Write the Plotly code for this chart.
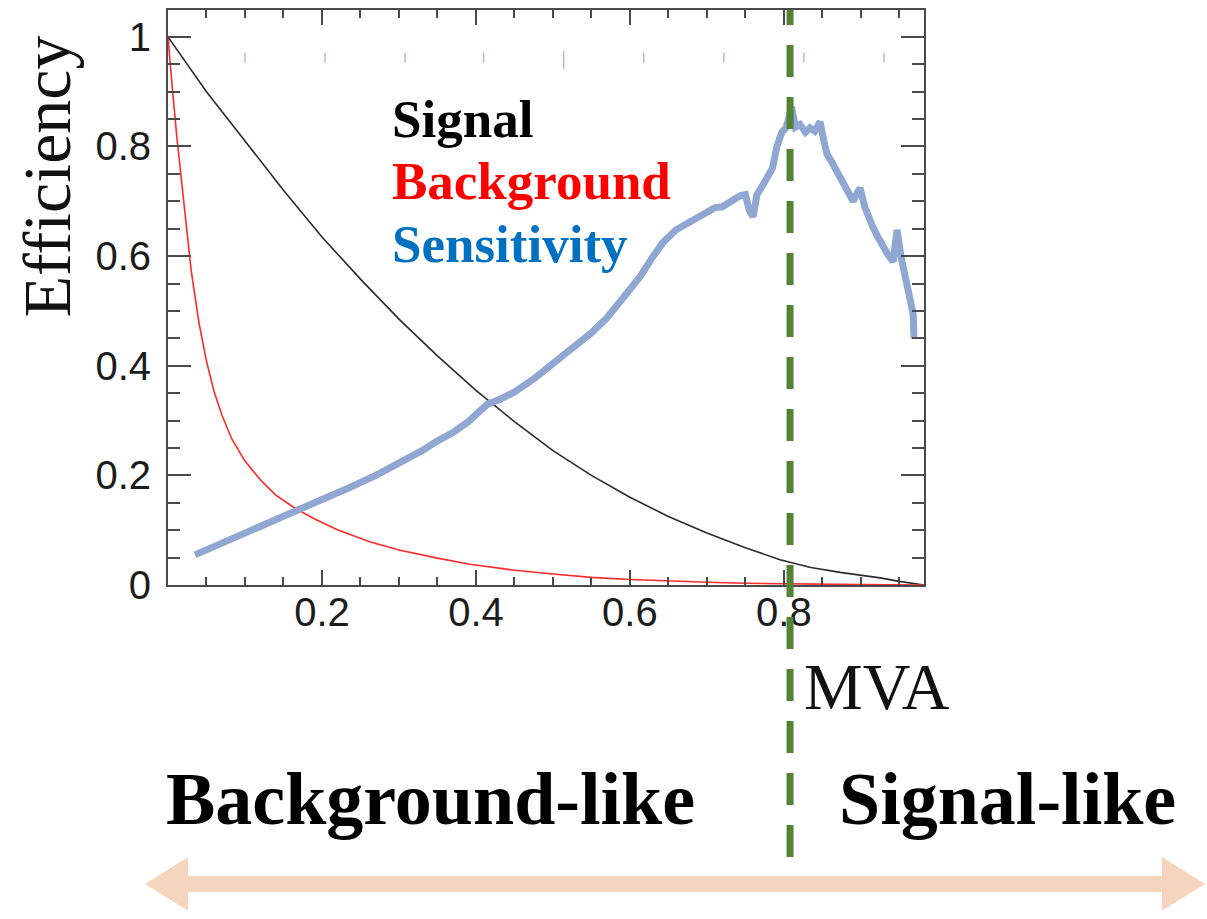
import plotly.graph_objects as go

# ---- data -------------------------------------------------------------
# signal efficiency vs. MVA cut
mva_sig = [0.0, 0.022, 0.05, 0.1, 0.15, 0.2, 0.25, 0.3, 0.35, 0.4, 0.45, 0.5,
           0.55, 0.6, 0.65, 0.7, 0.75, 0.795, 0.835, 0.873, 0.9, 0.925, 0.948,
           0.965, 0.982]
eff_sig = [1.0, 0.955, 0.90, 0.81, 0.72, 0.635, 0.558, 0.485, 0.418, 0.355, 0.298, 0.245,
           0.2, 0.16, 0.125, 0.095, 0.068, 0.046, 0.032, 0.023, 0.018, 0.013, 0.007,
           0.003, 0.0]

# background efficiency vs. MVA cut
mva_bkg = [0.0, 0.002, 0.006, 0.012, 0.02, 0.03, 0.04, 0.05, 0.06, 0.07, 0.083, 0.1,
           0.12, 0.14, 0.165, 0.19, 0.22, 0.262, 0.3, 0.35, 0.392, 0.45, 0.5, 0.55,
           0.6, 0.65, 0.7, 0.75, 0.8, 0.85, 0.9, 0.982]
eff_bkg = [1.0, 0.965, 0.90, 0.81, 0.70, 0.575, 0.48, 0.408, 0.352, 0.31, 0.266, 0.226,
           0.192, 0.164, 0.14, 0.121, 0.101, 0.079, 0.064, 0.049, 0.038, 0.027, 0.02,
           0.014, 0.01, 0.007, 0.005, 0.0032, 0.002, 0.0012, 0.0006, 0.0]

# sensitivity vs. MVA cut
mva_sens = [0.035, 0.06, 0.08, 0.106, 0.14, 0.171, 0.2, 0.236, 0.27, 0.30, 0.33, 0.349,
            0.37, 0.39, 0.405, 0.415, 0.43, 0.45, 0.475, 0.5, 0.525, 0.55, 0.57, 0.587,
            0.6, 0.613, 0.628, 0.643, 0.66, 0.68, 0.695, 0.71, 0.72, 0.732, 0.743,
            0.75, 0.755, 0.76, 0.765, 0.772, 0.778, 0.785, 0.791, 0.797, 0.803, 0.81,
            0.815, 0.821, 0.828, 0.834, 0.84, 0.847, 0.852, 0.856, 0.862, 0.868, 0.873,
            0.88, 0.886, 0.89, 0.895, 0.899, 0.905, 0.91, 0.915, 0.922, 0.929, 0.935,
            0.942, 0.947, 0.952, 0.958, 0.963, 0.968, 0.969]
sens = [0.055, 0.07, 0.083, 0.10, 0.118, 0.138, 0.155, 0.178, 0.2, 0.222, 0.245, 0.262,
        0.278, 0.298, 0.318, 0.33, 0.338, 0.352, 0.376, 0.404, 0.432, 0.46, 0.487, 0.515,
        0.538, 0.562, 0.595, 0.625, 0.648, 0.665, 0.678, 0.688, 0.69, 0.702, 0.71,
        0.712, 0.684, 0.672, 0.712, 0.728, 0.742, 0.76, 0.80, 0.825, 0.835, 0.872,
        0.835, 0.84, 0.826, 0.834, 0.828, 0.845, 0.81, 0.786, 0.772, 0.756, 0.742,
        0.728, 0.712, 0.70, 0.715, 0.724, 0.69, 0.668, 0.655, 0.635, 0.615, 0.603,
        0.59, 0.648, 0.60, 0.56, 0.53, 0.494, 0.45]

# small marks of the sensitivity axis near the top of the frame
sens_mark_x = [0.10, 0.204, 0.308, 0.41, 0.514, 0.618, 0.722, 0.826, 0.93]
sens_mark_y = [0.962, 0.962, 0.962, 0.962, 0.958, 0.962, 0.962, 0.962, 0.962]
sens_mark_size = [7, 7, 7, 7, 13, 7, 7, 7, 7]

cut_value = 0.808

x_range = [0.0, 0.982]
y_range = [0.0, 1.049]
x_tickvals = [0.2, 0.4, 0.6, 0.8]
x_ticktext = ["0.2", "0.4", "0.6", "0.8"]
y_tickvals = [0.0, 0.2, 0.4, 0.6, 0.8, 1.0]
y_ticktext = ["0", "0.2", "0.4", "0.6", "0.8", "1"]

# ---- layout geometry (pixels) ----------------------------------------
W, H = 1207, 919
ML, MR, MT, MB = 168, 283, 8, 334
PW, PH = W - ML - MR, H - MT - MB


def px(x):
    return (x - ML) / PW


def py(y):
    return (H - MB - y) / PH


SERIF = "Liberation Serif, Times New Roman, serif"
SANS = "Liberation Sans, Arial, Helvetica, sans-serif"
FRAME = "#4a4a4a"

fig = go.Figure()

fig.add_trace(go.Scatter(x=mva_sig, y=eff_sig, mode="lines",
                         line=dict(color="#2b2b2b", width=1.6), name="Signal"))
fig.add_trace(go.Scatter(x=mva_bkg, y=eff_bkg, mode="lines",
                         line=dict(color="#ff2a2a", width=1.6), name="Background"))
fig.add_trace(go.Scatter(x=mva_sens, y=sens, mode="lines",
                         line=dict(color="#8fa7d2", width=7), name="Sensitivity"))
fig.add_trace(go.Scatter(x=sens_mark_x, y=sens_mark_y, mode="markers",
                         marker=dict(symbol="line-ns", size=sens_mark_size,
                                     line=dict(color="#8fa7d2", width=1.6)),
                         name="marks"))

axis_common = dict(
    showline=True, linecolor=FRAME, linewidth=2, mirror="allticks",
    ticks="inside", tickcolor=FRAME, tickwidth=2,
    showgrid=False, zeroline=False,
    tickfont=dict(family=SANS, size=40, color="#1c1c1c"),
)

fig.update_xaxes(range=x_range, tickmode="array", tickvals=x_tickvals,
                 ticktext=x_ticktext, ticklen=15, ticklabelstandoff=-9,
                 minor=dict(tick0=0, dtick=0.05, ticks="inside", ticklen=8,
                            tickcolor=FRAME, tickwidth=1.6),
                 **axis_common)
fig.update_yaxes(range=y_range, tickmode="array", tickvals=y_tickvals,
                 ticktext=y_ticktext, ticklen=23, ticklabelstandoff=7,
                 minor=dict(tick0=0, dtick=0.05, ticks="inside", ticklen=12,
                            tickcolor=FRAME, tickwidth=1.6),
                 **axis_common)

# cut line, drawn from the bottom end upward
fig.add_shape(type="line", xref="x", yref="paper",
              x0=cut_value, x1=cut_value, y0=py(858), y1=1,
              line=dict(color="#548235", width=7, dash="32px,20px"),
              layer="above")

# double-headed arrow along the bottom
ax_l, ax_r, head = 145, 1205, 43
ay, shaft, half = 885, 8, 27
pts = [(ax_l, ay), (ax_l + head, ay - half), (ax_l + head, ay - shaft),
       (ax_r - head, ay - shaft), (ax_r - head, ay - half), (ax_r, ay),
       (ax_r - head, ay + half), (ax_r - head, ay + shaft),
       (ax_l + head, ay + shaft), (ax_l + head, ay + half)]
path = "M " + " L ".join(f"{px(a):.5f},{py(b):.5f}" for a, b in pts) + " Z"
fig.add_shape(type="path", xref="paper", yref="paper", path=path,
              fillcolor="#f6d5be", line=dict(width=0), layer="above")

annotations = [
    dict(text="Efficiency", x=px(47), y=py(175), textangle=-90,
         font=dict(family=SERIF, size=68, color="#111111"),
         xanchor="center", yanchor="middle"),
    dict(text="<b>Signal</b>", x=px(390), y=py(117),
         font=dict(family=SERIF, size=53, color="#000000"),
         xanchor="left", yanchor="middle"),
    dict(text="<b>Background</b>", x=px(390), y=py(180),
         font=dict(family=SERIF, size=53, color="#ff0000"),
         xanchor="left", yanchor="middle"),
    dict(text="<b>Sensitivity</b>", x=px(390), y=py(243),
         font=dict(family=SERIF, size=53, color="#0070c0"),
         xanchor="left", yanchor="middle"),
    dict(text="MVA", x=px(802), y=py(687),
         font=dict(family=SERIF, size=66, color="#111111"),
         xanchor="left", yanchor="middle"),
    dict(text="<b>Background-like</b>", x=px(164), y=py(800),
         font=dict(family=SERIF, size=74, color="#000000"),
         xanchor="left", yanchor="middle"),
    dict(text="<b>Signal-like</b>", x=px(837), y=py(800),
         font=dict(family=SERIF, size=74, color="#000000"),
         xanchor="left", yanchor="middle"),
]
for a in annotations:
    a.update(xref="paper", yref="paper", showarrow=False)

fig.update_layout(
    width=W, height=H,
    margin=dict(l=ML, r=MR, t=MT, b=MB, pad=0),
    paper_bgcolor="white", plot_bgcolor="white",
    showlegend=False,
    annotations=annotations,
)

fig.write_html("out.html")
